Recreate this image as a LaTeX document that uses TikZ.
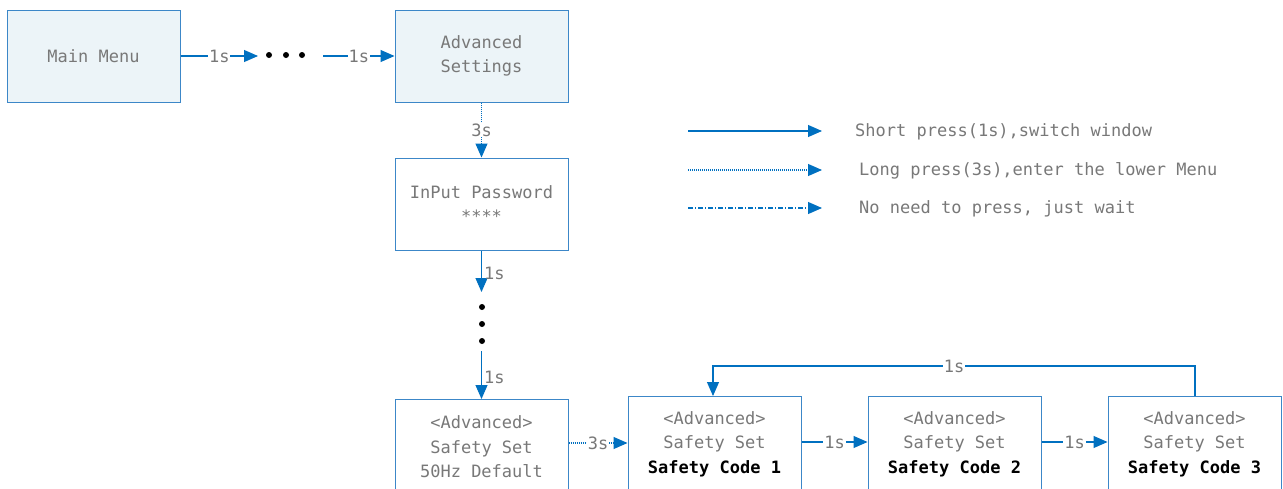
\documentclass[tikz,border=0pt]{standalone}
\usepackage{fontspec}
\setmainfont{DejaVu Sans Mono}
\usetikzlibrary{arrows.meta}
\definecolor{lineblue}{RGB}{0,112,192}
\definecolor{boxblue}{RGB}{60,135,200}
\definecolor{boxfill}{RGB}{236,244,248}
\definecolor{txtgray}{RGB}{120,120,120}
\tikzset{
  x=1pt, y=-1pt,
  box/.style={draw=boxblue, line width=1pt, minimum width=173pt, minimum height=92pt,
    inner sep=0pt, align=center, text=txtgray, font=\fontsize{17}{24.5}\selectfont},
  hlbox/.style={box, fill=boxfill},
  cutbox/.style={box, minimum height=95pt},
  conn/.style={draw=lineblue, line width=1.1pt, -{Triangle[length=14pt,width=12pt]}},
  dotline/.style={dash pattern=on 1pt off 1pt},
  dashdot/.style={dash pattern=on 5pt off 2pt on 1pt off 2pt},
  lbl/.style={fill=white, inner sep=1pt, text=txtgray, font=\fontsize{17}{20}\selectfont},
  rlbl/.style={right, inner sep=2pt, text=txtgray, font=\fontsize{17}{20}\selectfont},
  legtxt/.style={anchor=west, inner sep=0pt, text=txtgray, font=\fontsize{17}{20}\selectfont},
  bdot/.style={circle, fill=black, inner sep=0pt, minimum size=6pt}
}
\newcommand{\bk}[1]{\textcolor{black}{\bfseries #1}}
\begin{document}
\begin{tikzpicture}
\clip (0,0) rectangle (1283,488);
\fill[white] (0,0) rectangle (1283,488);

% boxes
\node[hlbox] (main) at (93.5,56) {Main Menu};
\node[hlbox] (adv) at (481.5,56) {Advanced\\Settings};
\node[box] (pwd) at (481.5,204) {InPut Password\\****};
\node[cutbox, anchor=north] (def) at (481.5,399) {<Advanced>\\Safety Set\\50Hz Default};
\node[cutbox, anchor=north] (sc1) at (714.5,396) {<Advanced>\\Safety Set\\\bk{Safety Code 1}};
\node[cutbox, anchor=north] (sc2) at (954.5,396) {<Advanced>\\Safety Set\\\bk{Safety Code 2}};
\node[cutbox, anchor=north] (sc3) at (1194.5,396) {<Advanced>\\Safety Set\\\bk{Safety Code 3}};

% horizontal dots
\coordinate (h1) at (258,56);
\node[bdot] (d1) at (269,55) {};
\node[bdot] (d2) at (286,55) {};
\node[bdot] (d3) at (302,55) {};
\coordinate (h2) at (323,56);
\path[conn] (main.east) -- node[lbl]{1s} (h1);
\path[conn] (h2) -- node[lbl]{1s} (adv.west);

% adv -> pwd
\path[conn, dotline] (adv.south) -- node[lbl]{3s} (pwd.north);

% vertical dots
\coordinate (v1) at (481.5,292);
\node[bdot] (e1) at (482,307) {};
\node[bdot] (e2) at (482,324) {};
\node[bdot] (e3) at (482,341) {};
\coordinate (v2) at (481.5,351);
\path[conn] (pwd.south) -- node[rlbl, pos=0.55]{1s} (v1);
\path[conn] (v2) -- node[rlbl, pos=0.55]{1s} (def.north);

% lower row
\path[conn, dotline] (def.east |- 0,443) -- node[lbl]{3s} (sc1.west |- 0,443);
\path[conn] (sc1.east |- 0,442) -- node[lbl]{1s} (sc2.west |- 0,442);
\path[conn] (sc2.east |- 0,442) -- node[lbl]{1s} (sc3.west |- 0,442);
\coordinate (loopR) at (1195,366);
\coordinate (loopL) at (713,366);
\path[conn] (sc3.north -| 1195,0) -- (loopR) -- node[lbl]{1s} (loopL) -- (sc1.north -| 713,0);

% legend
\coordinate (l1a) at (688,131); \coordinate (l1b) at (822,131);
\coordinate (l2a) at (688,170); \coordinate (l2b) at (822,170);
\coordinate (l3a) at (688,208); \coordinate (l3b) at (822,208);
\path[conn] (l1a) -- (l1b);
\path[conn, dotline] (l2a) -- (l2b);
\path[conn, dashdot] (l3a) -- (l3b);
\node[legtxt] (t1) at (855,132) {Short press(1s),switch window};
\node[legtxt] (t2) at (859,171) {Long press(3s),enter the lower Menu};
\node[legtxt] (t3) at (859,209) {No need to press, just wait};
\end{tikzpicture}
\end{document}
